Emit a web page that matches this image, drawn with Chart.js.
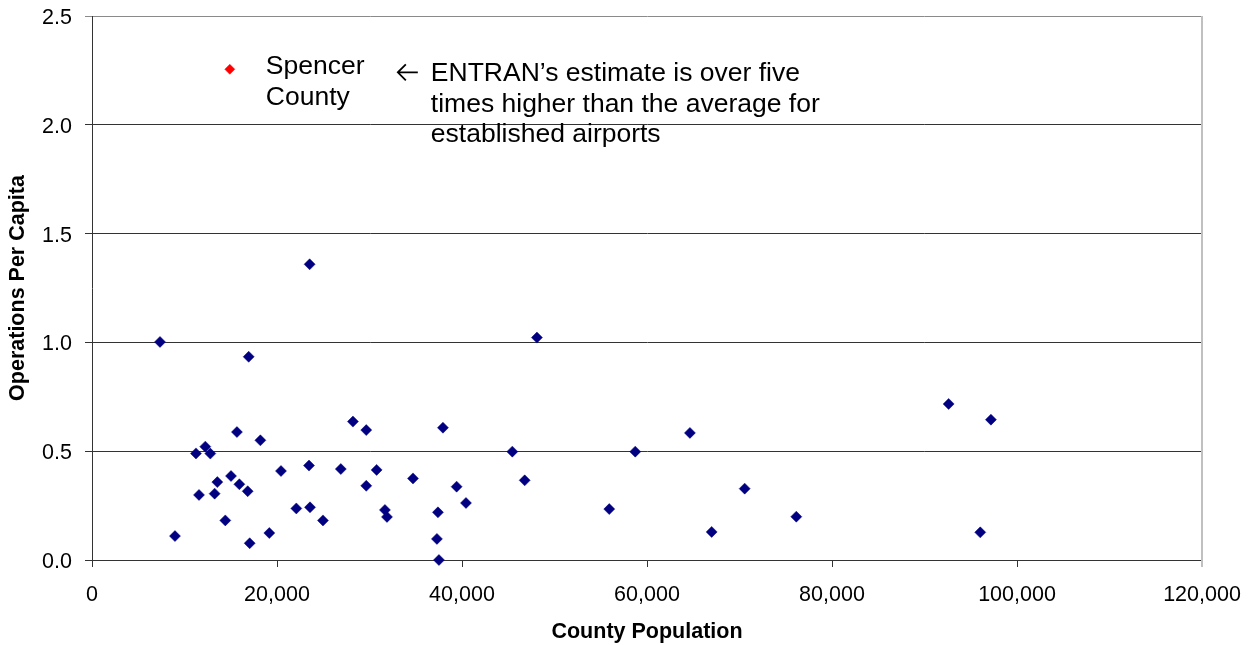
<!DOCTYPE html>
<html>
<head>
<meta charset="utf-8">
<script src="https://cdn.jsdelivr.net/npm/chart.js@4"></script>
<style>
  html, body { margin: 0; padding: 0; background: #fff; }
  #wrap { width: 1250px; height: 645px; }
</style>
</head>
<body>
<div id="wrap"><canvas id="c" width="1250" height="645"></canvas></div>
<script>
// County population vs. airport operations per capita
const population = [
  7350, 8970, 11240, 11570, 12250, 12790, 13260, 13550, 14410, 15030,
  15670, 15930, 16830, 16940, 17050, 18200, 19170, 20430, 22090, 23460,
  23530, 23570, 24970, 26900, 28210, 29650, 29650, 30770, 31670, 31890,
  34700, 37290, 37400, 37510, 37940, 39420, 40430, 45440, 46780, 48100,
  55920, 58730, 64640, 66990, 70560, 76140, 92610, 96030, 97180
];
const opsPerCapita = [
  1.002, 0.110, 0.490, 0.299, 0.521, 0.489, 0.305, 0.358, 0.182, 0.386,
  0.588, 0.348, 0.316, 0.934, 0.077, 0.550, 0.124, 0.409, 0.237, 0.434,
  1.359, 0.242, 0.182, 0.418, 0.636, 0.597, 0.341, 0.414, 0.230, 0.198,
  0.375, 0.097, 0.219, 0.000, 0.608, 0.337, 0.262, 0.498, 0.366, 1.022,
  0.234, 0.498, 0.584, 0.129, 0.328, 0.199, 0.717, 0.127, 0.645
];

// Spencer County (ENTRAN estimate)
const spencerPopulation = [14900];
const spencerOps = [2.255];

const xTickValues = [0, 20000, 40000, 60000, 80000, 100000, 120000];
const yTickValues = [0.0, 0.5, 1.0, 1.5, 2.0, 2.5];

const spencerLabel = ['Spencer', 'County'];
const noteLines = [
  'ENTRAN\u2019s estimate is over five',
  'times higher than the average for',
  'established airports'
];

const FONT = '"Liberation Sans", Arial, Helvetica, sans-serif';

const toPoints = (xs, ys) => xs.map((v, i) => ({ x: v, y: ys[i] }));

// Text callout next to the Spencer County marker, plus the plot's right edge
const calloutPlugin = {
  id: 'callout',
  afterDraw(chart) {
    const { ctx, chartArea, scales: { x, y } } = chart;
    ctx.save();

    // right border of the plot area
    ctx.strokeStyle = '#c0c0c0';
    ctx.lineWidth = 2;
    ctx.beginPath();
    ctx.moveTo(chartArea.right, chartArea.top);
    ctx.lineTo(chartArea.right, chartArea.bottom + 7);
    ctx.stroke();

    const px = x.getPixelForValue(spencerPopulation[0]);
    const py = y.getPixelForValue(spencerOps[0]);

    ctx.fillStyle = '#000';
    ctx.font = '26.5px ' + FONT;
    ctx.textAlign = 'left';
    ctx.textBaseline = 'alphabetic';
    spencerLabel.forEach((t, i) => ctx.fillText(t, px + 36, py + 4.5 + i * 31.5));

    // arrow pointing back to the label
    const ay = py + 3;
    ctx.strokeStyle = '#000';
    ctx.lineWidth = 1.8;
    ctx.beginPath();
    ctx.moveTo(px + 188, ay);
    ctx.lineTo(px + 168, ay);
    ctx.moveTo(px + 176, ay - 8);
    ctx.lineTo(px + 168, ay);
    ctx.lineTo(px + 176, ay + 8);
    ctx.stroke();

    noteLines.forEach((t, i) => ctx.fillText(t, px + 201, py + 12 + i * 30.5));
    ctx.restore();
  }
};

new Chart(document.getElementById('c'), {
  type: 'scatter',
  data: {
    datasets: [
      {
        label: 'Established airports',
        data: toPoints(population, opsPerCapita),
        pointStyle: 'rectRot',
        pointRadius: 5.5,
        backgroundColor: '#000080',
        borderColor: '#000080',
        borderWidth: 0.5,
        clip: false
      },
      {
        label: 'Spencer County',
        data: toPoints(spencerPopulation, spencerOps),
        pointStyle: 'rectRot',
        pointRadius: 5,
        backgroundColor: '#ff0000',
        borderColor: '#ff0000',
        borderWidth: 0.5,
        clip: false
      }
    ]
  },
  options: {
    responsive: false,
    devicePixelRatio: 1,
    animation: false,
    layout: { padding: { top: 16, right: 48, left: 0, bottom: 0 } },
    plugins: {
      legend: { display: false },
      tooltip: { enabled: false }
    },
    scales: {
      x: {
        type: 'linear',
        min: 0,
        max: 120000,
        afterFit: (s) => { s.height = 85; s.paddingLeft = 0; s.paddingRight = 0; },
        afterBuildTicks: (s) => { s.ticks = xTickValues.map(v => ({ value: v })); },
        border: { display: true, color: '#333', width: 1 },
        grid: { drawOnChartArea: false, drawTicks: true, tickLength: 7, color: '#333' },
        ticks: {
          padding: 15,
          color: '#000',
          font: { family: FONT, size: 21.5 },
          maxRotation: 0,
          callback: (v) => Number(v).toLocaleString('en-US')
        },
        title: {
          display: true,
          text: 'County Population',
          color: '#000',
          font: { family: FONT, size: 21.5, weight: 'bold' },
          padding: { top: 0, bottom: 0 }
        }
      },
      y: {
        type: 'linear',
        min: 0,
        max: 2.5,
        afterFit: (s) => { s.width = 92; s.paddingTop = 0; s.paddingBottom = 0; },
        afterBuildTicks: (s) => { s.ticks = yTickValues.map(v => ({ value: v })); },
        border: { display: true, color: '#333', width: 1 },
        grid: {
          drawTicks: true,
          tickLength: 7,
          color: (c) => (c.tick && c.tick.value === 2.5 ? '#8a8a8a' : '#333'),
          lineWidth: 1
        },
        ticks: {
          padding: 13,
          labelOffset: 2,
          color: '#000',
          font: { family: FONT, size: 21.5 },
          callback: (v) => Number(v).toFixed(1)
        },
        title: {
          display: true,
          text: 'Operations Per Capita',
          color: '#000',
          font: { family: FONT, size: 21.5, weight: 'bold' },
          padding: { top: 5, bottom: 0 }
        }
      }
    }
  },
  plugins: [calloutPlugin]
});
</script>
</body>
</html>
